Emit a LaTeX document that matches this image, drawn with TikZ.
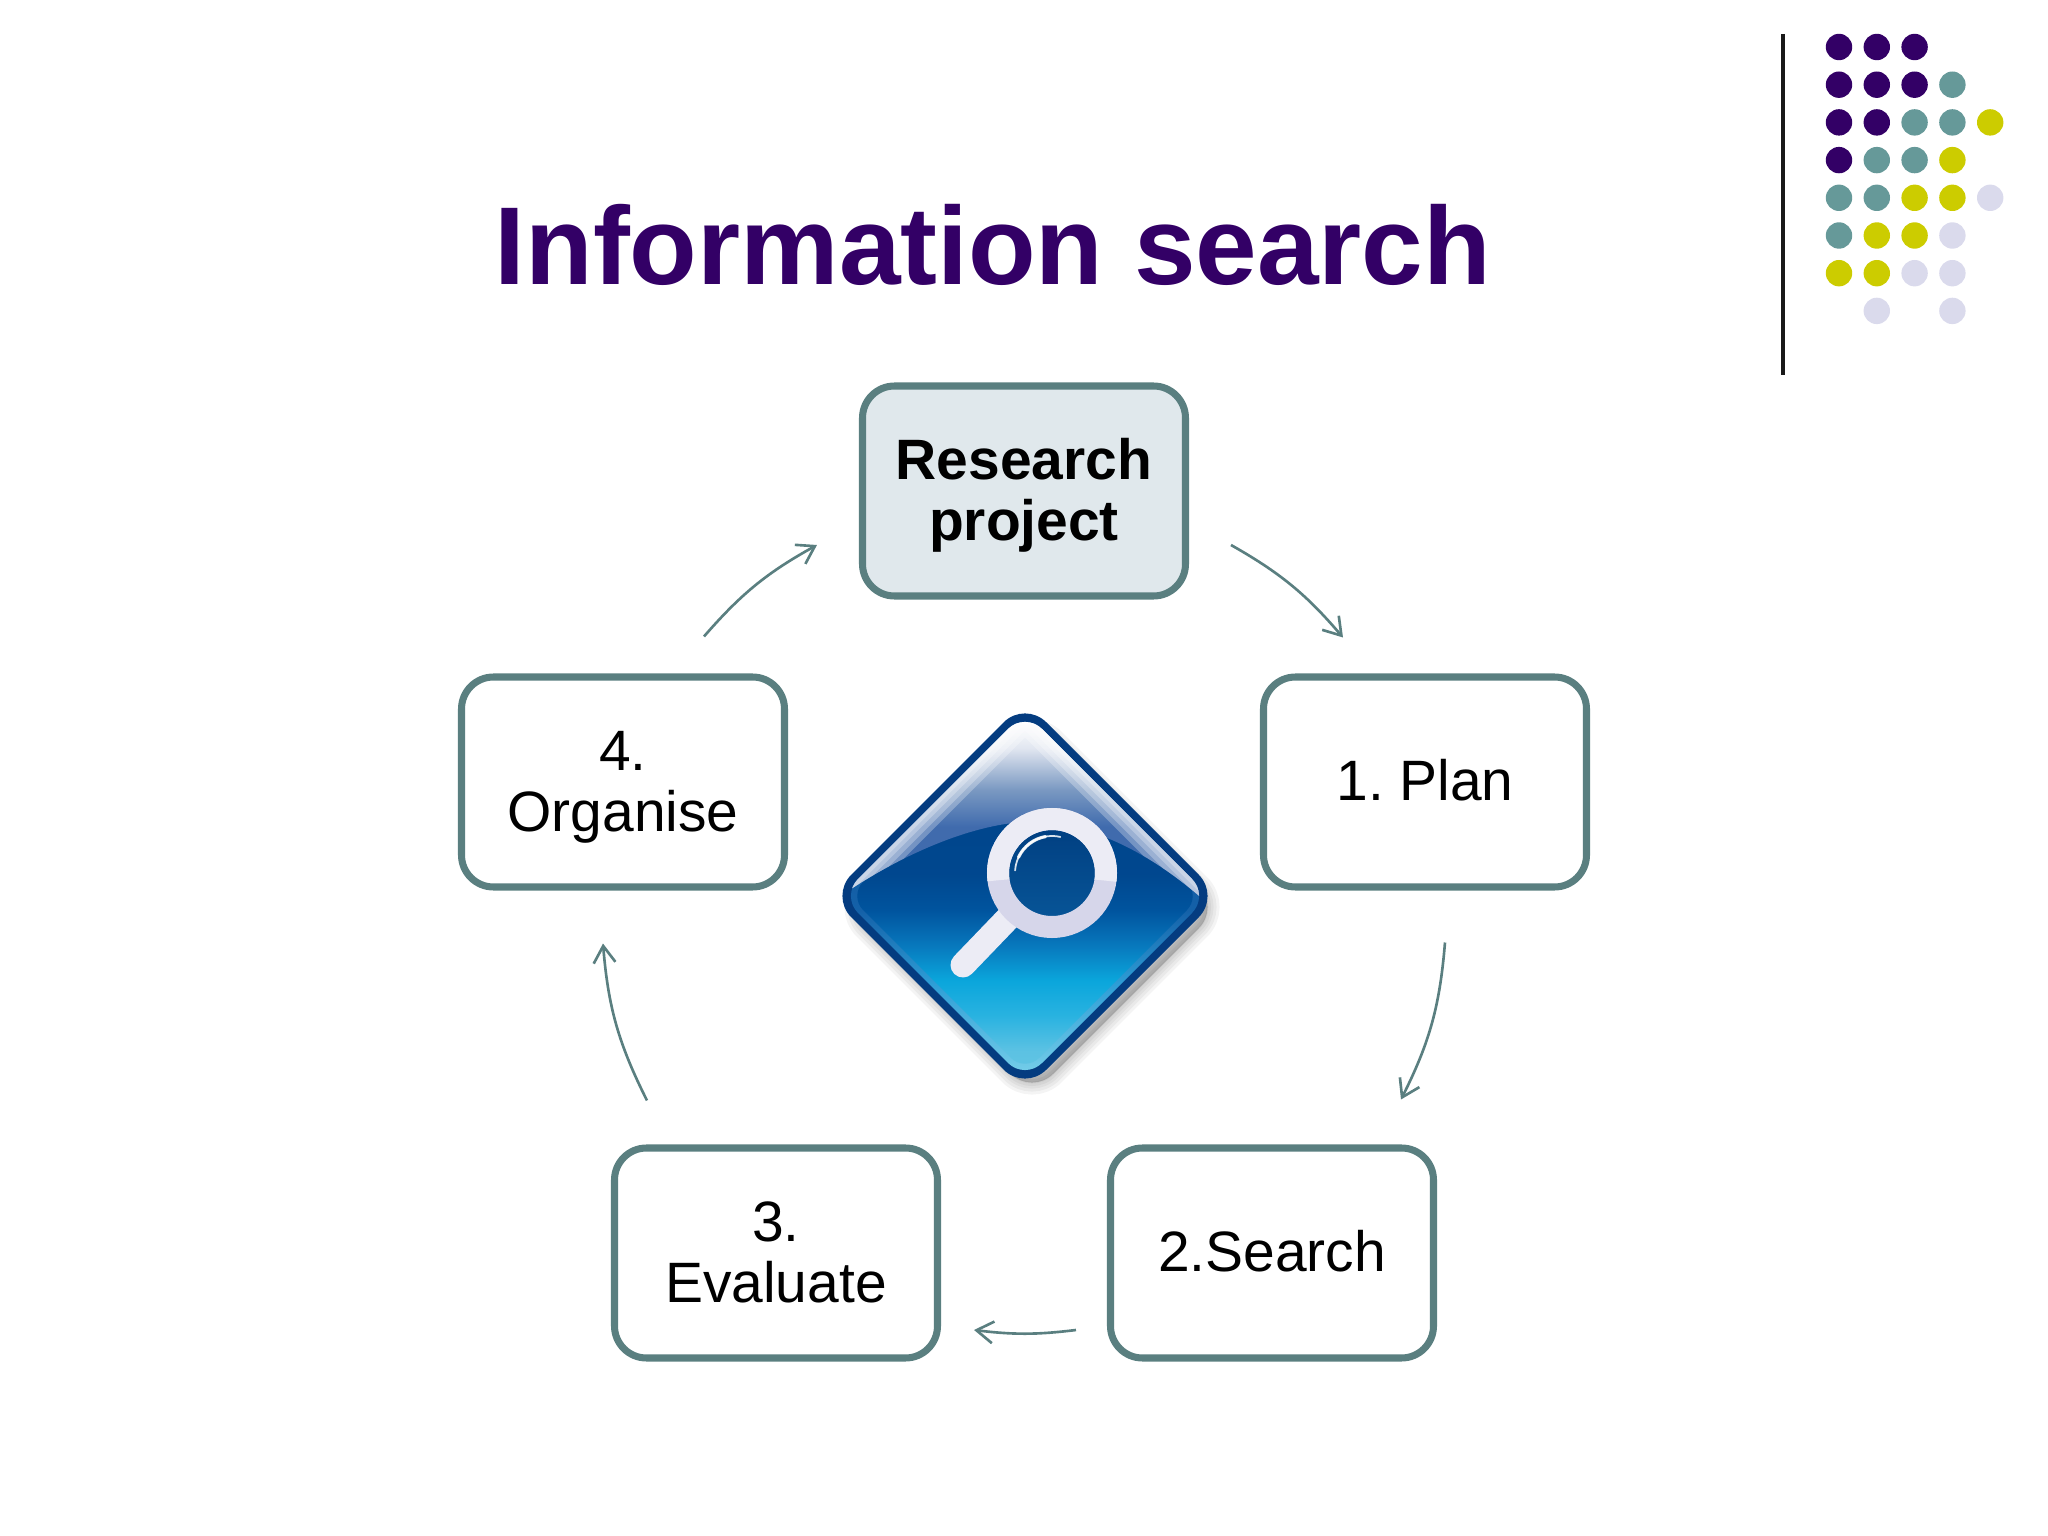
\documentclass[tikz,border=0pt]{standalone}
\usepackage{fontspec}
\setmainfont{Liberation Sans}
\usetikzlibrary{arrows.meta}
\definecolor{titlepurple}{HTML}{330066}
\definecolor{dotteal}{HTML}{669999}
\definecolor{dotyellow}{HTML}{CCCC00}
\definecolor{dotlilac}{HTML}{DADAEC}
\definecolor{boxteal}{HTML}{5A7F80}
\definecolor{boxpale}{HTML}{E0E8EC}
\definecolor{iconrim}{HTML}{043C80}
\definecolor{ringtop}{HTML}{ECECF5}
\definecolor{ringlow}{HTML}{D6D6EA}
\pgfdeclareverticalshading{iconblue}{100bp}{rgb(0bp)=(.38,.77,.89); rgb(25bp)=(.38,.77,.89);
  rgb(28bp)=(.36,.76,.89); rgb(33bp)=(.16,.70,.88); rgb(38bp)=(.04,.65,.86); rgb(43bp)=(.03,.47,.74); rgb(48bp)=(0,.33,.62); rgb(53bp)=(0,.28,.56); rgb(100bp)=(0,.24,.50)}
\pgfdeclareverticalshading{iconrimglow}{100bp}{rgb(0bp)=(.48,.82,.92); rgb(25bp)=(.48,.82,.92);
  rgb(38bp)=(.18,.62,.84); rgb(48bp)=(.08,.38,.66); rgb(100bp)=(.02,.26,.52)}
\pgfdeclareverticalshading{icongloss}{100bp}{rgb(0bp)=(.25,.42,.68); rgb(44bp)=(.25,.42,.68);
  rgb(54bp)=(.48,.60,.76); rgb(65bp)=(.88,.90,.94); rgb(72bp)=(1,1,1); rgb(100bp)=(1,1,1)}
\pgfdeclareverticalshading{iconlens}{100bp}{rgb(0bp)=(.03,.34,.60); rgb(25bp)=(.03,.34,.60);
  rgb(75bp)=(0,.24,.50); rgb(100bp)=(0,.24,.50)}
\newcommand{\diamondpath}[1]{(0,#1) -- (#1,0) -- (0,-#1) -- (-#1,0) -- cycle}
\newcommand{\boxtop}{\rule{0pt}{14.4pt}}
\newcommand{\boxbottom}{\rule[-3.6pt]{0pt}{3.6pt}}

\begin{document}
\frenchspacing
\begin{tikzpicture}[
  % Box styling
  stage/.style={draw=boxteal, line width=2pt, rounded corners=.32cm, fill=white, minimum width=3.23cm, minimum height=2.10cm, align=center, inner sep=0pt, font=\fontsize{16.2}{17.1}\selectfont},
  project/.style={stage, fill=boxpale, font=\fontsize{16.2}{17.1}\selectfont\bfseries},
  % Curved arrows
  flow/.style={draw=boxteal, line width=.75pt, -{Straight Barb[length=4.8pt,width=6.2pt]}},
  dot/.style={fill=#1}
]
\useasboundingbox (0,0) rectangle (20.48,-15.36);

\node[font=\fontsize{31.5}{36}\selectfont\bfseries, text=titlepurple] (title) at (9.93,-2.45) {Information search};

% Corner decoration
\draw[line width=1pt, black!90] (17.83,-.34) -- (17.83,-3.75);
\foreach \col/\row/\clr in {
  1/1/titlepurple, 2/1/titlepurple, 3/1/titlepurple,
  1/2/titlepurple, 2/2/titlepurple, 3/2/titlepurple, 4/2/dotteal,
  1/3/titlepurple, 2/3/titlepurple, 3/3/dotteal, 4/3/dotteal, 5/3/dotyellow,
  1/4/titlepurple, 2/4/dotteal, 3/4/dotteal, 4/4/dotyellow,
  1/5/dotteal, 2/5/dotteal, 3/5/dotyellow, 4/5/dotyellow, 5/5/dotlilac,
  1/6/dotteal, 2/6/dotyellow, 3/6/dotyellow, 4/6/dotlilac,
  1/7/dotyellow, 2/7/dotyellow, 3/7/dotlilac, 4/7/dotlilac,
  2/8/dotlilac, 4/8/dotlilac}
  \fill[dot=\clr] ({18.39+.378*(\col-1)},{-.47-.377*(\row-1)}) circle (.132);

% The five boxes
\node[project] (research) at (10.24,-4.91) {\boxtop Research\\project\boxbottom};
\node[stage] (plan) at (14.25,-7.82) {\boxtop 1. Plan\boxbottom};
\node[stage] (search) at (12.72,-12.53) {\boxtop 2.Search\boxbottom};
\node[stage] (evaluate) at (7.76,-12.53) {\boxtop 3.\\Evaluate\boxbottom};
\node[stage] (organise) at (6.23,-7.82) {\boxtop 4.\\Organise\boxbottom};

\draw[flow] ([shift={(.42,-.54)}]research.east) to[bend left=10] ([shift={(-.82,.36)}]plan.north);
\draw[flow] ([shift={(.20,-.52)}]plan.south) to[bend left=11] ([shift={(1.29,.45)}]search.north);
\draw[flow] ([shift={(-.31,-.77)}]search.west) to[bend left=7] ([shift={(.33,-.77)}]evaluate.east);
\draw[flow] ([shift={(-1.29,.44)}]evaluate.north) to[bend left=11] ([shift={(-.20,-.53)}]organise.south);
\draw[flow] ([shift={(.81,.37)}]organise.north) to[bend left=10] ([shift={(-.42,-.54)}]research.west);

% Magnifier icon
\begin{scope}[shift={(10.25,-8.96)}]
  % soft shadow
  \foreach \w in {.24,.18,.12,.07,.02}
    \draw[black, opacity=.045, fill, line width=\w cm, rounded corners=.3cm, line join=round] [shift={(.07,-.11)}] \diamondpath{1.88};
  \fill[iconrim, rounded corners=.3cm] \diamondpath{1.95};
  \shade[shading=iconrimglow, rounded corners=.24cm] \diamondpath{1.84};
  \shade[shading=iconblue, rounded corners=.2cm] \diamondpath{1.76};
  % glossy upper part
  \begin{scope}
    \clip[rounded corners=.24cm] \diamondpath{1.84};
    \clip (-1.8,.03) .. controls (-1.1,.5) and (-.4,.74) .. (.05,.74) .. controls (.6,.74) and (1.2,.48) .. (1.8,-.05) -- (1.8,2) -- (-1.8,2) -- cycle;
    \shade[shading=icongloss] (-1.85,-.02) rectangle (1.85,1.85);
    \foreach \w in {.08,.16,.26,.36}
      \draw[white, opacity=.28, line width=\w cm] (-1.84,0) -- (0,1.84) -- (1.84,0);
  \end{scope}
  % handle, lens and ring
  \draw[ringtop, line width=.25cm, line cap=round] (-.62,-.69) -- (-.12,-.17);
  \shade[shading=iconlens] (.27,.23) circle (.54);
  \draw[ringlow, line width=.22cm] (.27,.23) circle (.54);
  \begin{scope}
    \clip (-.5,.13) .. controls (0,.2) and (.5,.2) .. (1,.13) -- (1,1) -- (-.5,1) -- cycle;
    \draw[ringtop, line width=.22cm] (.27,.23) circle (.54);
  \end{scope}
  \draw[white, opacity=.85, line width=.5pt, line cap=round] ([shift={(176:.37)}].27,.23) arc (176:77:.37);
  \draw[white, opacity=.9, line width=.9pt, line cap=round] ([shift={(155:.37)}].27,.23) arc (155:100:.37);
\end{scope}

\end{tikzpicture}
\end{document}
